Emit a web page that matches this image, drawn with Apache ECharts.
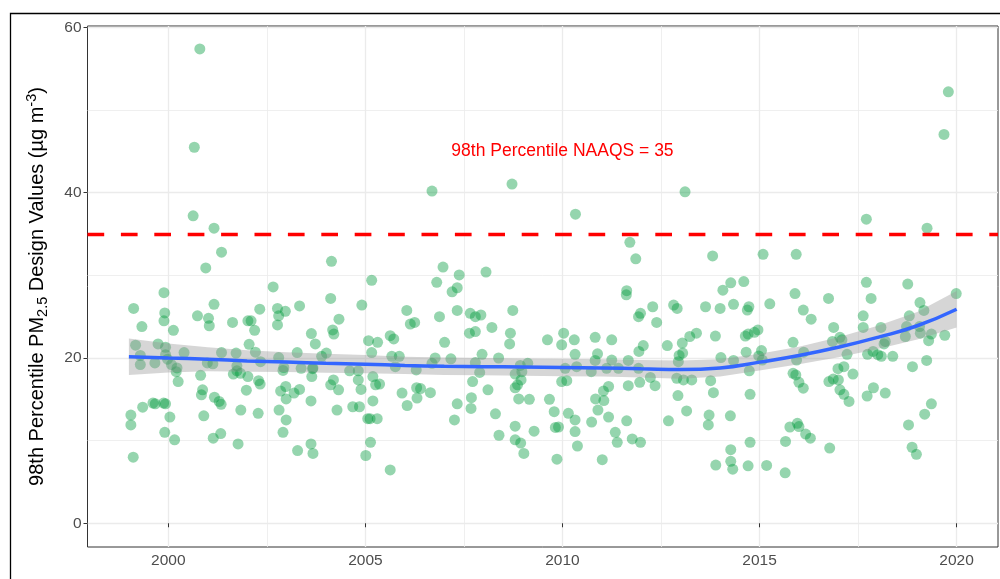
<!DOCTYPE html>
<html>
<head>
<meta charset="utf-8">
<script src="https://cdn.jsdelivr.net/npm/echarts@6/dist/echarts.min.js"></script>
<style>
  html, body { margin: 0; padding: 0; background: #fff; }
  #pm-chart { width: 1000px; height: 579px; }
</style>
</head>
<body>
<div id="pm-chart"></div>
<script>
// axis breaks (ggplot-like major / minor grid)
const xBreaks = [2000, 2005, 2010, 2015, 2020];
const xMinorBreaks = [2002.5, 2007.5, 2012.5, 2017.5];
const yBreaks = [0, 20, 40, 60];
const yMinorBreaks = [10, 30, 50];

const naaqs = 35;
const naaqsLabel = '98th Percentile NAAQS = 35';
const naaqsLabelAt = [2010, 45];

// site design values [year, ug/m3]
const designValues = [
  [2000.80, 57.4], [2000.66, 45.5], [2006.69, 40.2], [2008.72, 41.05], [2013.11, 40.1], [2019.79, 52.2], [2019.68, 47.05],
  [2000.63, 37.2], [2001.16, 35.7], [2001.35, 32.8], [2000.95, 30.9], [1999.12, 26.0], [1999.33, 23.8], [1999.89, 27.9],
  [1999.91, 25.45], [1999.89, 24.5], [2000.13, 23.35], [2000.74, 25.1], [2001.02, 24.8], [2001.04, 23.9], [2001.16, 26.5],
  [2001.63, 24.3], [2002.02, 24.5], [2002.10, 24.5], [2002.19, 23.35], [2002.32, 25.9], [2002.66, 28.6], [2002.77, 26.0],
  [2002.80, 25.1], [2002.97, 25.65], [2002.77, 24.0], [2003.33, 26.3], [2003.63, 22.95], [2003.73, 21.7], [2004.14, 31.7],
  [2004.12, 27.2], [2004.33, 24.7], [2004.17, 23.4], [2004.20, 22.9], [2004.91, 26.4], [2005.16, 29.4], [2005.08, 22.1],
  [2005.31, 21.9], [2005.16, 20.65], [2005.63, 22.7], [1999.17, 21.55], [1999.74, 21.7], [1999.93, 21.3], [1999.29, 20.3],
  [1999.66, 19.4], [1999.93, 20.4], [1999.98, 19.85], [2000.40, 20.65], [2001.35, 20.65], [2001.72, 20.6], [2002.05, 21.65],
  [2002.21, 20.7], [2002.34, 19.55], [2002.80, 20.05], [2003.27, 20.65], [2004.01, 20.6], [2003.89, 20.2], [2000.99, 19.4],
  [2001.13, 19.3], [2001.74, 19.05], [2002.93, 18.85], [2003.67, 18.8], [2000.22, 18.8], [2005.67, 20.2],
  [1999.29, 19.2], [2000.08, 19.2], [2000.20, 18.35], [2000.25, 17.15], [2000.82, 17.9], [2000.87, 16.15], [2000.84, 15.55],
  [2001.17, 15.25], [2001.29, 14.75], [2001.34, 14.4], [2000.90, 13.0], [2001.14, 10.3], [2001.33, 10.85], [2001.77, 9.6],
  [2001.84, 13.7], [2001.98, 16.1], [2001.65, 18.05], [2001.74, 18.45], [2001.83, 18.15], [2002.02, 17.75], [2002.29, 17.25],
  [2002.33, 16.85], [2002.28, 13.3], [2002.91, 18.5], [2003.37, 18.75], [2003.66, 18.7], [2003.64, 17.75], [2002.85, 16.0],
  [2002.98, 16.55], [2002.99, 15.05], [2003.19, 15.75], [2003.33, 16.2], [2003.62, 14.8], [2002.81, 13.7], [2002.99, 12.5],
  [2002.91, 11.0], [2003.28, 8.8], [2003.62, 9.6], [2003.67, 8.45], [2004.19, 17.35], [2004.12, 16.75], [2004.32, 16.15],
  [2004.28, 13.7], [2004.60, 18.45], [2004.82, 18.45], [2004.82, 17.35], [2004.89, 16.2], [2004.68, 14.1], [2004.85, 14.1],
  [2005.19, 17.75], [2005.26, 16.75], [2005.36, 16.85], [2005.19, 14.8], [2005.06, 12.65], [2005.12, 12.65], [2005.30, 12.65],
  [2005.13, 9.8], [2005.01, 8.2], [2005.63, 6.45], [1999.05, 13.1], [1999.05, 11.9], [1999.11, 8.0], [1999.35, 14.05],
  [1999.61, 14.55], [1999.67, 14.45], [1999.88, 14.55], [1999.93, 14.45], [2000.04, 12.85], [1999.91, 11.0], [2000.16, 10.1],
  [2010.33, 37.4], [2011.71, 34.0], [2011.86, 32.0], [2006.97, 31.0], [2007.38, 30.05], [2008.06, 30.4], [2006.81, 29.15],
  [2007.20, 28.0], [2007.33, 28.5], [2006.05, 25.75], [2006.14, 24.1], [2006.25, 24.3], [2006.88, 25.0], [2007.33, 25.75],
  [2007.66, 25.4], [2007.79, 25.0], [2007.93, 25.2], [2008.74, 25.75], [2007.64, 23.0], [2007.79, 23.2], [2008.21, 23.7],
  [2008.68, 23.0], [2008.66, 21.7], [2007.01, 21.9], [2005.72, 22.3], [2005.86, 20.2], [2006.77, 20.0], [2007.17, 19.9],
  [2007.96, 20.45], [2008.38, 20.0], [2007.79, 19.45], [2006.69, 19.35], [2008.93, 19.1], [2009.12, 19.35], [2009.62, 22.2],
  [2010.03, 23.0], [2009.98, 21.6], [2010.30, 22.2], [2010.32, 20.45], [2010.83, 22.5], [2011.25, 22.2], [2010.89, 20.5],
  [2011.25, 19.75], [2011.63, 28.15], [2011.62, 27.65], [2011.93, 25.0], [2011.98, 25.4], [2012.29, 26.2], [2012.39, 24.3],
  [2012.82, 26.4], [2012.91, 26.0], [2012.05, 21.5], [2011.94, 20.8], [2012.66, 21.5], [2013.04, 21.8], [2013.23, 22.6],
  [2013.05, 20.6], [2012.96, 20.3], [2012.94, 19.55], [2011.67, 19.7], [2010.83, 19.7],
  [2005.93, 15.75], [2006.06, 14.25], [2006.31, 15.15], [2006.30, 16.4], [2006.40, 16.3], [2006.65, 15.8], [2006.29, 18.55],
  [2005.76, 18.95], [2007.33, 14.45], [2007.26, 12.5], [2007.69, 15.2], [2007.68, 13.9], [2007.72, 17.15], [2007.90, 18.25],
  [2008.11, 16.15], [2008.30, 13.25], [2008.39, 10.65], [2008.80, 16.4], [2008.86, 16.75], [2008.95, 17.35], [2008.97, 18.35],
  [2008.80, 18.05], [2008.89, 15.05], [2009.16, 15.0], [2008.80, 11.75], [2008.80, 10.1], [2008.94, 9.7], [2009.02, 8.45],
  [2009.28, 11.15], [2009.67, 15.0], [2009.79, 13.5], [2009.82, 11.6], [2009.90, 11.65], [2009.86, 7.75], [2009.98, 17.15],
  [2010.11, 17.25], [2010.15, 13.3], [2010.32, 12.5], [2010.32, 11.1], [2010.38, 9.35], [2010.07, 18.75], [2010.36, 18.95],
  [2010.74, 12.25], [2010.84, 15.05], [2010.90, 13.7], [2011.04, 16.0], [2011.05, 14.85], [2011.17, 16.55], [2011.17, 12.85],
  [2010.73, 18.35], [2011.01, 7.7], [2011.34, 11.0], [2011.39, 9.8], [2011.63, 12.4], [2011.67, 16.65], [2011.77, 10.2],
  [2011.98, 9.8], [2011.96, 17.05], [2012.23, 17.65], [2012.35, 16.65], [2012.69, 12.4], [2012.90, 17.55], [2012.93, 15.45],
  [2013.15, 13.6], [2013.07, 17.35], [2011.42, 18.75], [2011.12, 18.75], [2011.93, 18.75],
  [2013.28, 17.35], [2013.76, 17.25], [2013.83, 15.8], [2013.72, 13.1], [2013.70, 11.9], [2014.26, 13.0], [2014.76, 15.6],
  [2014.74, 18.45], [2014.27, 8.9], [2014.27, 7.5], [2014.32, 6.55], [2013.89, 7.05], [2014.71, 6.95], [2014.76, 9.8],
  [2015.18, 7.0], [2015.65, 6.1], [2015.66, 9.9], [2015.77, 11.65], [2015.96, 12.1], [2016.00, 11.7], [2016.17, 10.8],
  [2016.29, 10.3], [2016.78, 9.1], [2015.85, 18.15], [2015.92, 17.95], [2016.00, 17.05], [2016.11, 16.35], [2016.76, 17.15],
  [2016.87, 17.45], [2017.00, 17.35], [2017.04, 16.15], [2017.14, 15.6], [2017.27, 14.75], [2016.99, 18.7], [2017.14, 18.95],
  [2017.37, 18.05], [2017.73, 15.4], [2017.89, 16.4], [2018.19, 15.75], [2018.78, 11.9], [2018.87, 9.2], [2018.98, 8.35],
  [2019.19, 13.2], [2019.36, 14.45], [2018.88, 18.95],
  [2013.81, 32.35], [2015.09, 32.55], [2015.93, 32.55], [2017.71, 36.8], [2019.25, 35.7], [2014.07, 28.2], [2014.27, 29.1],
  [2014.60, 29.25], [2017.71, 29.15], [2018.76, 28.95], [2013.63, 26.2], [2014.00, 26.0], [2014.34, 26.5], [2014.69, 25.8],
  [2014.73, 26.2], [2015.26, 26.55], [2015.90, 27.8], [2016.11, 25.8], [2016.31, 24.7], [2016.75, 27.2], [2017.83, 27.2],
  [2019.07, 26.7], [2019.17, 25.75], [2019.99, 27.8], [2018.80, 25.1], [2017.63, 25.1], [2017.63, 23.7], [2013.40, 23.0],
  [2013.88, 22.65], [2014.02, 20.05], [2014.34, 19.7], [2014.64, 22.65], [2014.71, 22.9], [2014.87, 23.1], [2014.96, 23.4],
  [2014.66, 20.7], [2015.05, 20.9], [2014.98, 20.25], [2015.07, 19.75], [2015.85, 21.9], [2016.12, 20.7], [2015.94, 19.75],
  [2016.88, 23.7], [2016.85, 22.0], [2017.04, 22.5], [2017.09, 22.2], [2017.22, 20.45], [2017.74, 20.45], [2017.88, 20.8],
  [2018.00, 20.4], [2018.09, 20.2], [2018.16, 21.7], [2018.19, 22.0], [2018.08, 23.7], [2018.38, 20.2], [2018.70, 22.6],
  [2018.73, 23.8], [2019.08, 23.0], [2019.29, 22.1], [2019.36, 22.9], [2019.70, 22.75], [2019.06, 23.8], [2019.24, 19.7]
];

const smoothYears = [1999, 2000, 2001, 2002, 2003, 2004, 2005, 2006, 2007, 2008, 2009, 2010,
  2011, 2012, 2013, 2014, 2015, 2016, 2017, 2018, 2019, 2020];
const smoothFit = [20.15, 20.0, 19.85, 19.65, 19.5, 19.35, 19.25, 19.1, 19.0, 18.95, 18.9, 18.85,
  18.8, 18.7, 18.6, 18.8, 19.5, 20.3, 21.3, 22.5, 23.9, 25.9];
const smoothLower = [17.95, 18.25, 18.4, 18.35, 18.3, 18.2, 18.15, 18.05, 17.95, 17.9, 17.85, 17.8,
  17.75, 17.65, 17.5, 17.75, 18.5, 19.25, 20.1, 21.1, 22.25, 23.7];
const smoothUpper = [22.35, 21.75, 21.3, 20.95, 20.7, 20.5, 20.35, 20.15, 20.05, 20.0, 19.95, 19.9,
  19.85, 19.75, 19.7, 19.85, 20.5, 21.35, 22.5, 23.9, 25.55, 28.1];

const font = 'Liberation Sans';
const gridColor = '#EBEBEB';
const xRange = [1997.95, 2021.05];
const yRange = [-2.87, 60.17];

const chart = echarts.init(document.getElementById('pm-chart'), null, { renderer: 'canvas' });

// gray confidence ribbon, one polygon through the band values
const renderRibbon = (params, api) => {
  const pts = [];
  smoothYears.forEach((x, i) => pts.push(api.coord([x, smoothUpper[i]])));
  for (let i = smoothYears.length - 1; i >= 0; i--) {
    pts.push(api.coord([smoothYears[i], smoothLower[i]]));
  }
  return {
    type: 'polygon',
    shape: { points: pts },
    style: { fill: 'rgba(153,153,153,0.4)' }
  };
};

const option = {
  animation: false,
  backgroundColor: '#fff',
  textStyle: { fontFamily: font },
  grid: {
    left: 87.5,
    right: 2,
    top: 26,
    bottom: 32,
    show: true,
    borderColor: '#333333',
    borderWidth: 1,
    containLabel: false,
    outerBoundsMode: 'none'
  },
  graphic: [{
    type: 'rect',
    silent: true,
    z: 100,
    shape: { x: 10.5, y: 13.5, width: 1000, height: 600 },
    style: { fill: 'none', stroke: '#000', lineWidth: 1.3 }
  }],
  xAxis: [
    {
      type: 'value',
      min: xRange[0],
      max: xRange[1],
      axisLine: { show: false },
      axisTick: { show: true, length: 4, customValues: xBreaks, lineStyle: { color: '#333333', width: 1 } },
      axisLabel: { customValues: xBreaks, color: '#4D4D4D', fontSize: 15.5, margin: 6, formatter: v => String(v) },
      splitLine: { show: true, lineStyle: { color: gridColor, width: 1.3 } }
    },
    {
      type: 'value',
      position: 'top',
      min: xRange[0],
      max: xRange[1],
      axisLine: { show: false },
      axisTick: { show: false, customValues: xMinorBreaks },
      axisLabel: { show: false, customValues: xMinorBreaks },
      splitLine: { show: true, lineStyle: { color: gridColor, width: 0.8 } }
    }
  ],
  yAxis: [
    {
      type: 'value',
      min: yRange[0],
      max: yRange[1],
      axisLine: { show: false },
      axisTick: { show: true, length: 4, customValues: yBreaks, lineStyle: { color: '#333333', width: 1 } },
      axisLabel: { customValues: yBreaks, color: '#4D4D4D', fontSize: 15.5, margin: 6 },
      splitLine: { show: true, lineStyle: { color: gridColor, width: 1.3 } },
      name: '98th Percentile PM{sub|2.5} Design Values (\u00b5g m{sup|-3})',
      nameLocation: 'middle',
      nameRotate: 90,
      nameGap: 37,
      nameTextStyle: {
        color: '#000',
        fontSize: 20,
        lineHeight: 26,
        rich: {
          sub: { fontSize: 14.5, lineHeight: 14, verticalAlign: 'bottom', color: '#000' },
          sup: { fontSize: 14.5, lineHeight: 14, verticalAlign: 'top', color: '#000' }
        }
      }
    },
    {
      type: 'value',
      position: 'right',
      min: yRange[0],
      max: yRange[1],
      axisLine: { show: false },
      axisTick: { show: false, customValues: yMinorBreaks },
      axisLabel: { show: false, customValues: yMinorBreaks },
      splitLine: { show: true, lineStyle: { color: gridColor, width: 0.8 } }
    }
  ],
  series: [
    {
      name: 'design values',
      type: 'scatter',
      z: 2,
      symbolSize: 11,
      itemStyle: { color: 'rgba(0,155,60,0.52)' },
      data: designValues
    },
    {
      name: 'ci band',
      type: 'custom',
      z: 3,
      silent: true,
      renderItem: renderRibbon,
      data: [[smoothYears[0], smoothFit[0]]]
    },
    {
      name: 'loess',
      type: 'line',
      z: 4,
      smooth: true,
      symbol: 'none',
      lineStyle: { color: '#3366FF', width: 3.5 },
      data: smoothYears.map((x, i) => [x, smoothFit[i]]),
      markLine: {
        silent: true,
        symbol: 'none',
        label: { show: false },
        lineStyle: { color: '#FF0000', width: 3.3, type: [16.7, 16.7] },
        data: [{ yAxis: naaqs }]
      },
      markPoint: {
        silent: true,
        symbol: 'circle',
        symbolSize: 1,
        itemStyle: { color: 'rgba(0,0,0,0)' },
        label: {
          show: true,
          position: 'inside',
          formatter: naaqsLabel,
          color: '#FF0000',
          fontSize: 17.5
        },
        data: [{ coord: naaqsLabelAt }]
      }
    }
  ]
};

chart.setOption(option);
</script>
</body>
</html>
